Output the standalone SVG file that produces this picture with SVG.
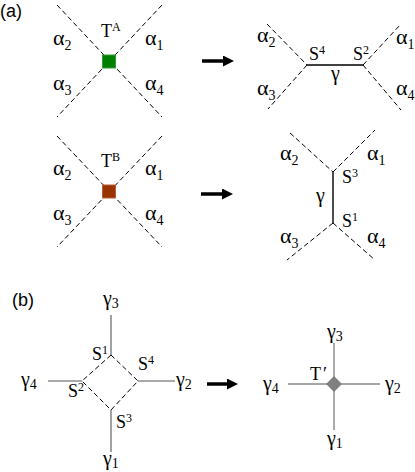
<svg xmlns="http://www.w3.org/2000/svg" width="415" height="472" viewBox="0 0 415 472">
<defs>
<style>
.d{stroke:#000;stroke-width:1;stroke-dasharray:5 3;fill:none}
.s{stroke:#000;stroke-width:1.4;fill:none}
.g{stroke:#555;stroke-width:1.1;fill:none}
.g2{stroke:#888;stroke-width:1.4;fill:none}
.arr{stroke:#000;stroke-width:3.5;fill:none}
.a,.t,.gm,.sub,.sup{font-family:"Liberation Serif","Times New Roman",serif;fill:#000}
.a{font-size:22px}
.t{font-size:18px}
.gm{font-size:20px}
.sub{font-size:14px}
.sup{font-size:12px}
.lab{font-family:"Liberation Sans",Arial,sans-serif;font-size:18px;fill:#000}
</style>
<marker id="ah" markerWidth="11" markerHeight="11" refX="1" refY="5.5" orient="auto" markerUnits="userSpaceOnUse" viewBox="0 0 11 11">
<path d="M0,0 L11,5.5 L0,11 z" fill="#000"/>
</marker>
</defs>

<text class="lab" x="0" y="17">(a)</text>
<text class="lab" x="12" y="306">(b)</text>

<g id="connectors">
<line class="d" x1="57" y1="5" x2="162" y2="117"/>
<line class="d" x1="162" y1="5" x2="57" y2="117"/>
<line class="d" x1="57" y1="136" x2="162" y2="247"/>
<line class="d" x1="162" y1="136" x2="57" y2="247"/>
<line class="d" x1="267" y1="24" x2="307" y2="65"/>
<line class="d" x1="307" y1="65" x2="268" y2="109"/>
<line class="s" x1="307" y1="65" x2="363" y2="65"/>
<line class="d" x1="363" y1="65" x2="401" y2="24"/>
<line class="d" x1="363" y1="65" x2="401" y2="110"/>
<line class="d" x1="290" y1="133" x2="333" y2="172"/>
<line class="d" x1="333" y1="172" x2="375" y2="130"/>
<line class="s" x1="333" y1="172" x2="333" y2="223"/>
<line class="d" x1="333" y1="223" x2="287" y2="260"/>
<line class="d" x1="333" y1="223" x2="375" y2="260"/>
<line class="arr" x1="202" y1="61" x2="224" y2="61" marker-end="url(#ah)"/>
<line class="arr" x1="201" y1="194" x2="223" y2="194" marker-end="url(#ah)"/>
<line class="arr" x1="207" y1="384" x2="228" y2="384" marker-end="url(#ah)"/>
<line class="g" x1="111" y1="315" x2="111" y2="355"/>
<line class="g" x1="111" y1="410" x2="111" y2="452"/>
<line class="g" x1="48" y1="381" x2="82" y2="381"/>
<line class="g" x1="138" y1="381" x2="175" y2="381"/>
<path class="d" d="M111,355 L138,381 L111,410 L82,381 Z"/>
<line class="g2" x1="288" y1="384" x2="380" y2="384"/>
<line class="g2" x1="334" y1="343" x2="334" y2="430"/>
</g>

<g id="TA">
<rect x="102.5" y="55" width="13" height="13" fill="#008000" stroke="#3a9a3a" stroke-width="1"/>
<text class="t" x="101" y="37">T<tspan class="sup" dy="-6">A</tspan></text>
</g>
<g id="TB">
<rect x="102.5" y="185" width="13" height="13" fill="#993300" stroke="#b5623a" stroke-width="1"/>
<text class="t" x="101" y="167">T<tspan class="sup" dy="-6">B</tspan></text>
</g>

<g id="labels-a1">
<text class="a" x="53" y="45">α<tspan class="sub" dy="5">2</tspan></text>
<text class="a" x="145" y="45">α<tspan class="sub" dy="5">1</tspan></text>
<text class="a" x="53" y="90">α<tspan class="sub" dy="5">3</tspan></text>
<text class="a" x="145" y="90">α<tspan class="sub" dy="5">4</tspan></text>
</g>
<g id="labels-a2">
<text class="a" x="53" y="175">α<tspan class="sub" dy="5">2</tspan></text>
<text class="a" x="145" y="175">α<tspan class="sub" dy="5">1</tspan></text>
<text class="a" x="53" y="220">α<tspan class="sub" dy="5">3</tspan></text>
<text class="a" x="145" y="220">α<tspan class="sub" dy="5">4</tspan></text>
</g>

<g id="right1">
<text class="a" x="257" y="42">α<tspan class="sub" dy="5">2</tspan></text>
<text class="a" x="396" y="44">α<tspan class="sub" dy="5">1</tspan></text>
<text class="a" x="257" y="95">α<tspan class="sub" dy="5">3</tspan></text>
<text class="a" x="396" y="95">α<tspan class="sub" dy="5">4</tspan></text>
<text class="t" x="309" y="60">S<tspan class="sup" dy="-6">4</tspan></text>
<text class="t" x="353" y="60">S<tspan class="sup" dy="-6">2</tspan></text>
<text class="gm" x="331" y="80">γ</text>
</g>

<g id="right2">
<text class="a" x="280" y="160">α<tspan class="sub" dy="5">2</tspan></text>
<text class="a" x="367" y="160">α<tspan class="sub" dy="5">1</tspan></text>
<text class="a" x="280" y="243">α<tspan class="sub" dy="5">3</tspan></text>
<text class="a" x="367" y="243">α<tspan class="sub" dy="5">4</tspan></text>
<text class="t" x="342" y="183">S<tspan class="sup" dy="-6">3</tspan></text>
<text class="t" x="342" y="227">S<tspan class="sup" dy="-6">1</tspan></text>
<text class="gm" x="316" y="202">γ</text>
</g>

<g id="b-left">
<text class="gm" x="103" y="305">γ<tspan class="sub" dy="3">3</tspan></text>
<text class="gm" x="21" y="386">γ<tspan class="sub" dy="3">4</tspan></text>
<text class="gm" x="176" y="386">γ<tspan class="sub" dy="3">2</tspan></text>
<text class="gm" x="103" y="465">γ<tspan class="sub" dy="3">1</tspan></text>
<text class="t" x="92" y="360">S<tspan class="sup" dy="-6">1</tspan></text>
<text class="t" x="138" y="370">S<tspan class="sup" dy="-6">4</tspan></text>
<text class="t" x="68" y="397">S<tspan class="sup" dy="-6">2</tspan></text>
<text class="t" x="116" y="428">S<tspan class="sup" dy="-6">3</tspan></text>
</g>

<g id="b-right">
<path d="M334,376 L342,384 L334,392 L326,384 Z" fill="#808080"/>
<text class="t" x="310" y="380">T<tspan dx="2">′</tspan></text>
<text class="gm" x="327" y="338">γ<tspan class="sub" dy="3">3</tspan></text>
<text class="gm" x="263" y="390">γ<tspan class="sub" dy="3">4</tspan></text>
<text class="gm" x="385" y="390">γ<tspan class="sub" dy="3">2</tspan></text>
<text class="gm" x="327" y="445">γ<tspan class="sub" dy="3">1</tspan></text>
</g>
</svg>
